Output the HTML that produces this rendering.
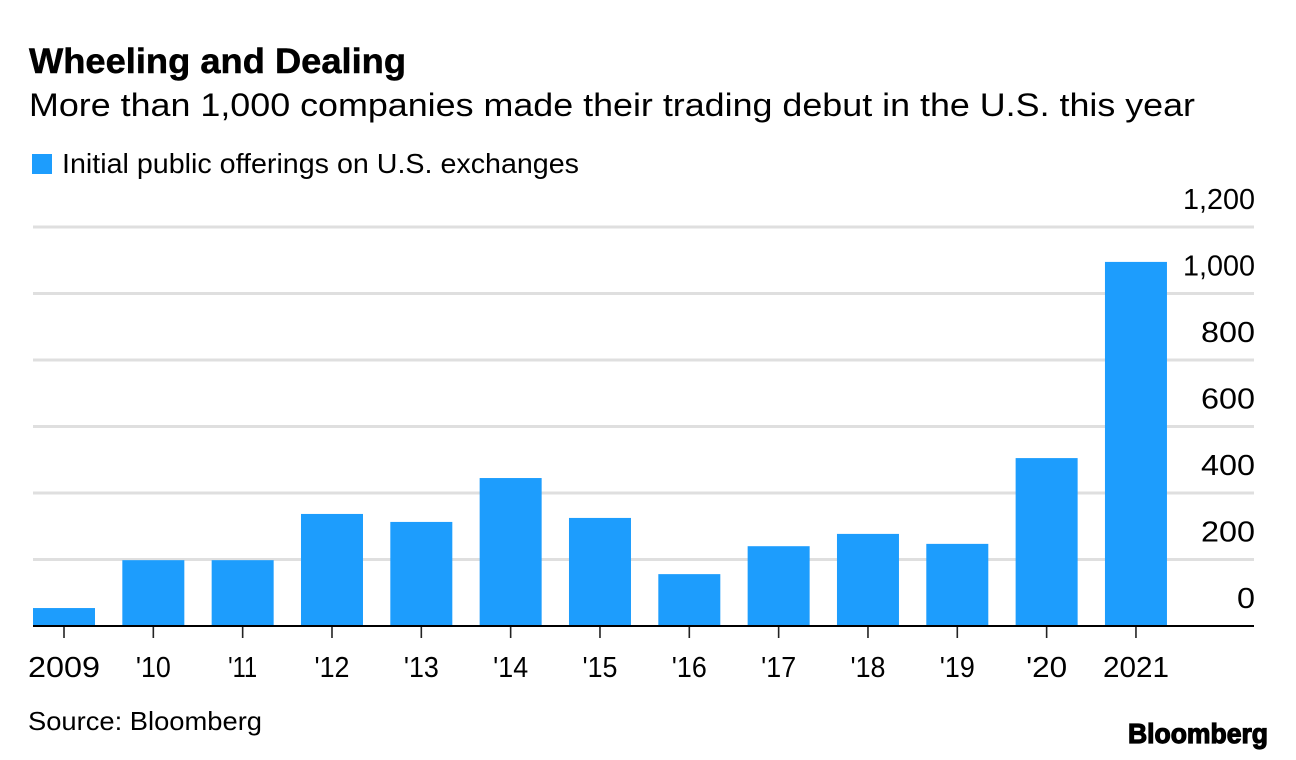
<!DOCTYPE html>
<html lang="en">
<head>
<meta charset="utf-8">
<title>Wheeling and Dealing</title>
<style>
html,body{margin:0;padding:0;background:#fff;width:1296px;height:760px;overflow:hidden}
svg{display:block}
text{font-family:"Liberation Sans",sans-serif;fill:#000}
</style>
</head>
<body>
<svg id="chart" width="1296" height="760" viewBox="0 0 1296 760" xmlns="http://www.w3.org/2000/svg">
  <text x="29" y="73" font-size="35" font-weight="700" stroke="#000" stroke-width="0.5" textLength="377" lengthAdjust="spacingAndGlyphs">Wheeling and Dealing</text>
  <text x="29" y="116" font-size="32" textLength="1166" lengthAdjust="spacingAndGlyphs">More than 1,000 companies made their trading debut in the U.S. this year</text>
  <rect x="32" y="154" width="20" height="20" fill="#1d9dfd"/>
  <text x="62" y="173" font-size="28" textLength="517" lengthAdjust="spacingAndGlyphs">Initial public offerings on U.S. exchanges</text>
  <g id="grid"></g>
  <g id="bars"></g>
  <g id="axes"></g>
  <text x="28" y="730" font-size="26" textLength="234" lengthAdjust="spacingAndGlyphs">Source: Bloomberg</text>
  <text x="1128" y="743" font-size="28" font-weight="700" stroke="#000" stroke-width="1.2" textLength="140" lengthAdjust="spacingAndGlyphs">Bloomberg</text>
</svg>
<script>
var categories = ["2009", "'10", "'11", "'12", "'13", "'14", "'15", "'16", "'17", "'18", "'19", "'20", "2021"];
var ipoCounts = [54, 198, 198, 337, 313, 445, 325, 156, 240, 277, 247, 505, 1095];
var yTicks = [0, 200, 400, 600, 800, 1000, 1200];
var yTickLabels = ["0", "200", "400", "600", "800", "1,000", "1,200"];

var svgNS = 'http://www.w3.org/2000/svg';
var plotLeft = 33, plotRight = 1254, baseY = 626, topY = 227, yMax = 1200;
var firstCenter = 64, step = 89.33, barWidth = 62;

function yScale(v) { return baseY - (v / yMax) * (baseY - topY); }
function xScale(i) { return firstCenter + i * step; }
function make(tag, attrs, parent) {
  var el = document.createElementNS(svgNS, tag);
  for (var k in attrs) el.setAttribute(k, attrs[k]);
  parent.appendChild(el);
  return el;
}
// Approximate advance of the reference typeface's figures, used to fit tick labels.
function labelWidth(s) {
  var w = 0;
  for (var i = 0; i < s.length; i++) {
    var ch = s.charAt(i);
    w += ch === "'" ? 5 : ch === ',' ? 6 : ch === '1' ? 12 : 18;
  }
  return w;
}

var gridG = document.getElementById('grid');
var barsG = document.getElementById('bars');
var axesG = document.getElementById('axes');

yTicks.forEach(function (t, i) {
  var y = yScale(t);
  if (t !== 0) {
    var line = make('line', {x1: plotLeft, x2: plotRight, y1: y, y2: y, stroke: '#dfdfdf', 'stroke-width': 3}, gridG);
    
    
  }
  var label = make('text', {x: 1255, y: y - 18, 'font-size': 29, 'text-anchor': 'end', textLength: labelWidth(yTickLabels[i]), lengthAdjust: 'spacingAndGlyphs'}, axesG);
  
  
  label.textContent = yTickLabels[i];
});

categories.forEach(function (c, i) {
  var cx = xScale(i);
  var top = yScale(ipoCounts[i]);
  var bar = make('rect', {x: cx - barWidth / 2, y: top, width: barWidth, height: baseY - top, fill: '#1d9dfd'}, barsG);
  
  

  var tick = make('line', {x1: cx, x2: cx, y1: baseY, y2: baseY + 12, stroke: '#222', 'stroke-width': 1.6}, axesG);
  
  

  var label = make('text', {x: cx, y: 677, 'font-size': 29, 'text-anchor': 'middle', textLength: labelWidth(c), lengthAdjust: 'spacingAndGlyphs'}, axesG);
  
  
  label.textContent = c;
});

var axis = make('line', {x1: plotLeft, x2: plotRight, y1: baseY, y2: baseY, stroke: '#000', 'stroke-width': 2}, axesG);


</script>
</body>
</html>
